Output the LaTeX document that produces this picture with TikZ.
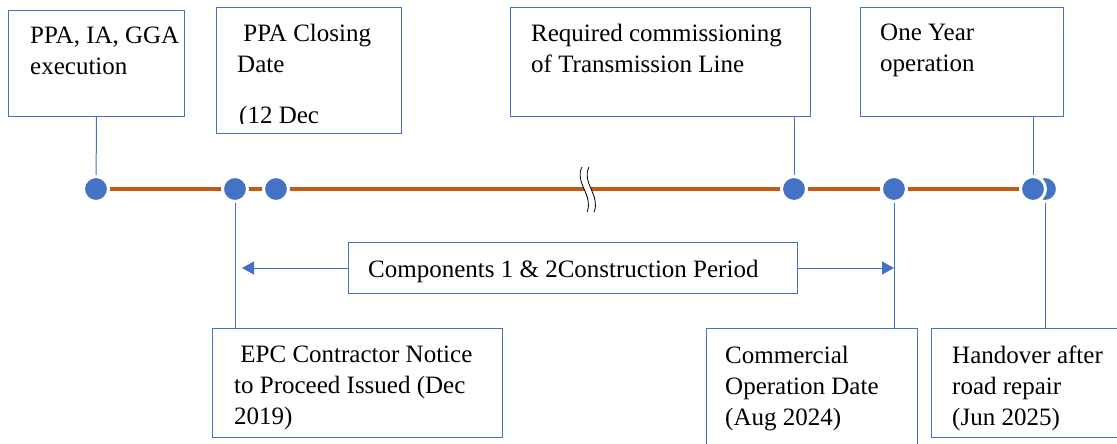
\documentclass[tikz,border=0pt]{standalone}
\usepackage{fontspec}
\setmainfont{Liberation Serif}
\usetikzlibrary{arrows.meta}
\definecolor{boxblue}{RGB}{68,114,196}
\definecolor{lineorange}{RGB}{197,90,17}

\begin{document}
\begin{tikzpicture}[%
      x=1pt, y=-1pt,
      box/.style={draw=boxblue, line width=1pt, inner sep=0pt, anchor=north west},
      txt/.style={inner sep=0pt, anchor=north west, align=left, font=\fontsize{25pt}{31pt}\selectfont},
      dot/.style={circle, fill=boxblue, draw=white, line width=3pt, minimum size=25pt, inner sep=0pt},
      link/.style={draw=boxblue, line width=1pt},
      ]
      \clip (0,0) rectangle (1117,444);

      % boxes above the line
      \node[box, minimum width=176pt, minimum height=106pt] (ppa) at (8,10) {};
      \node[box, minimum width=185pt, minimum height=126pt] (close) at (216,7) {};
      \node[box, minimum width=300pt, minimum height=109pt] (req) at (510,7) {};
      \node[box, minimum width=203pt, minimum height=109pt] (year) at (860,7) {};

      % boxes below the line
      \node[box, minimum width=449pt, minimum height=51pt] (period) at (348,242) {};
      \node[box, minimum width=290pt, minimum height=109pt] (epc) at (212,328) {};
      \node[box, minimum width=211pt, minimum height=140pt] (cod) at (706,328) {};
      \node[box, minimum width=200pt, minimum height=109pt] (hand) at (931,328) {};

      \node[txt] (ppatext) at (30,27) {PPA, IA, GGA\\execution};
      \node[txt] (closetext) at (237,24) {\ PPA Closing\\Date};
      \begin{scope}
        \clip (216,7) rectangle (401,123.5);
        \node[txt, anchor=base west] (closedate) at (239,124) {(12 Dec};
      \end{scope}
      \node[txt] (reqtext) at (531,24) {Required commissioning\\of Transmission Line};
      \node[txt] (yeartext) at (880,24) {One Year\\operation};
      \node[txt, anchor=base west] (periodtext) at (368,277) {Components 1 \& 2Construction Period};
      \node[txt] (epctext) at (234,346) {\ EPC Contractor Notice\\to Proceed Issued (Dec\\2019)};
      \node[txt] (codtext) at (725,346) {Commercial\\Operation Date\\(Aug 2024)};
      \node[txt] (handtext) at (952,346) {Handover after\\road repair\\(Jun 2025)};

      % time line
      \coordinate (t1) at (96,189);
      \coordinate (t2) at (235,189);
      \coordinate (t3) at (276,189);
      \coordinate (t4) at (794,189);
      \coordinate (t5) at (894,189);
      \coordinate (t6b) at (1045,189);
      \coordinate (t6) at (1033,189);
      \draw [color=lineorange, line width=4.5pt] (t1) -- (t6);

      \fill [white] (582,167) .. controls (574,182) and (594,196) .. (587,212)
        -- (594,212) .. controls (601,196) and (581,182) .. (589,167) -- cycle;
      \draw [line width=0.8pt] (582,167) .. controls (574,182) and (594,196) .. (587,212);
      \draw [line width=0.8pt] (589,167) .. controls (581,182) and (601,196) .. (594,212);

      \node[dot] (d1) at (t1) {};
      \node[dot] (d2) at (t2) {};
      \node[dot] (d3) at (t3) {};
      \node[dot] (d4) at (t4) {};
      \node[dot] (d5) at (t5) {};
      \node[dot] (d6b) at (t6b) {};
      \node[dot] (d6) at (t6) {};

      \draw [link] (ppa.south) -- (d1);
      \draw [link] (req.south -| d4) -- (d4);
      \draw [link] (year.south -| d6) -- (d6);
      \draw [link] (d2) -- (d2 |- epc.north);
      \draw [link] (d5) -- (d5 |- cod.north);
      \draw [link] (d6b) -- (d6b |- hand.north);

      \draw [link, -{Triangle[length=12pt, width=13pt]}] (period.west) -- ([xshift=7pt]period.west -| d2);
      \draw [link, -{Triangle[length=12pt, width=13pt]}] (period.east) -- (period.east -| d5);
\end{tikzpicture}
\end{document}
